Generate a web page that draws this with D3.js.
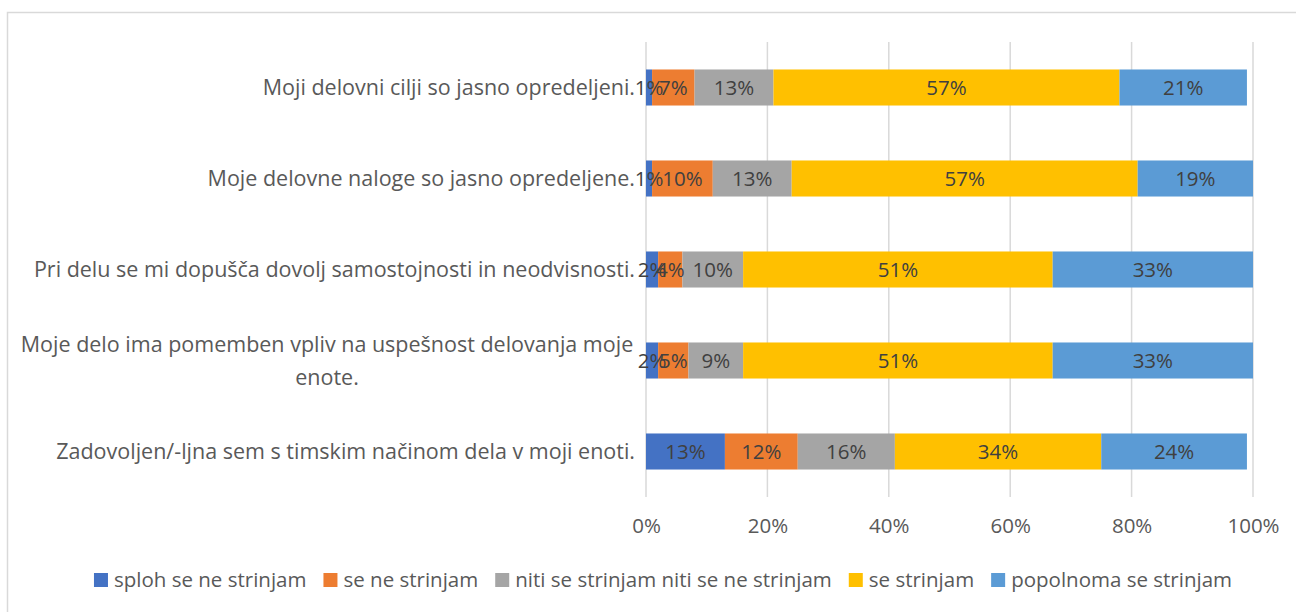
<!DOCTYPE html>
<html><head><meta charset="utf-8">
<script src="https://cdn.jsdelivr.net/npm/d3@7"></script>
<style>body{margin:0;background:#fff}svg{display:block}text{font-family:"Open Sans",Lato,sans-serif}</style>
</head><body><svg id="c" width="1296" height="612"></svg>
<script>
const categories = [
  "Moji delovni cilji so jasno opredeljeni.",
  "Moje delovne naloge so jasno opredeljene.",
  "Pri delu se mi dopušča dovolj samostojnosti in neodvisnosti.",
  "Moje delo ima pomemben vpliv na uspešnost delovanja moje enote.",
  "Zadovoljen/-ljna sem s timskim načinom dela v moji enoti."
];
const seriesNames = ["sploh se ne strinjam","se ne strinjam","niti se strinjam niti se ne strinjam","se strinjam","popolnoma se strinjam"];
const splohSeNe = [1,1,2,2,13];
const seNe = [7,10,4,5,12];
const niti = [13,13,10,9,16];
const seStrinjam = [57,57,51,51,34];
const popolnoma = [21,19,33,33,24];
const tickValues = [0,20,40,60,80,100];
const colors = ["#4472C4","#ED7D31","#A5A5A5","#FFC000","#5B9BD5"];

const series = [splohSeNe,seNe,niti,seStrinjam,popolnoma];
const FS = "20.5px", FC = "21.5px";
const svg = d3.select("#c");
svg.append("path").attr("d","M7.5,612 V12.5 H1296").attr("fill","none").attr("stroke","#d9d9d9").attr("stroke-width",1.5);

const x = d3.scaleLinear().domain([0,100]).range([646,1253]);
const y = d3.scaleBand().domain(categories).range([42,497]).paddingInner(0.604).paddingOuter(0.302);

svg.append("g").selectAll("line").data(tickValues).join("line")
  .attr("x1",d=>x(d)).attr("x2",d=>x(d)).attr("y1",42).attr("y2",497)
  .attr("stroke","#d9d9d9").attr("stroke-width",1.5);

const ax = svg.append("g").attr("transform","translate(0,497)").call(d3.axisBottom(x).tickValues(tickValues).tickFormat(d=>d+"%").tickSize(0).tickPadding(21));
ax.select(".domain").remove();
ax.selectAll("text").attr("fill","#595959").style("font-size",FS).style("font-family","'Open Sans'");

const rows = categories.map((c,i)=>{let acc=0;return series.map((s,k)=>{const v=s[i];const r={cat:c,k,v,x0:acc,x1:acc+v};acc+=v;return r;});});
const g = svg.append("g");
rows.forEach(r=>{
  g.selectAll(null).data(r).join("rect")
    .attr("x",d=>x(d.x0)).attr("width",d=>x(d.x1)-x(d.x0))
    .attr("y",d=>y(d.cat)).attr("height",y.bandwidth())
    .attr("fill",d=>colors[d.k]);
});
rows.forEach(r=>{
  g.selectAll(null).data(r).join("text")
    .attr("x",d=>(x(d.x0)+x(d.x1))/2).attr("y",d=>y(d.cat)+y.bandwidth()/2)
    .attr("dy","0.35em").attr("text-anchor","middle")
    .attr("fill","#404040").style("font-size",FS).text(d=>d.v+"%");
});

const lab = svg.append("g");
categories.forEach((c,i)=>{
  const cy = y(c)+y.bandwidth()/2;
  if(i===3){
    const t = lab.append("text").attr("text-anchor","middle").attr("fill","#595959").style("font-size",FC);
    t.append("tspan").attr("x",327).attr("y",cy-16.5).attr("dy","0.35em").text("Moje delo ima pomemben vpliv na uspešnost delovanja moje");
    t.append("tspan").attr("x",327).attr("y",cy+16.5).attr("dy","0.35em").text("enote.");
  } else {
    lab.append("text").attr("x",635).attr("y",cy).attr("dy","0.35em").attr("text-anchor","end")
      .attr("fill","#595959").style("font-size",FC).text(c);
  }
});

const leg = svg.append("g");
let lx = 0;
seriesNames.forEach((n,k)=>{
  const it = leg.append("g");
  it.append("rect").attr("x",0).attr("y",-7).attr("width",14).attr("height",14).attr("fill",colors[k]);
  const t = it.append("text").attr("x",20).attr("dy","0.35em").attr("fill","#595959").style("font-size",FS).text(n);
  const w = 20 + t.node().getComputedTextLength();
  it.attr("transform",`translate(${lx},0)`);
  lx += w + 17;
});
const total = lx - 17;
leg.attr("transform",`translate(${663-total/2},580)`);
</script></body></html>
